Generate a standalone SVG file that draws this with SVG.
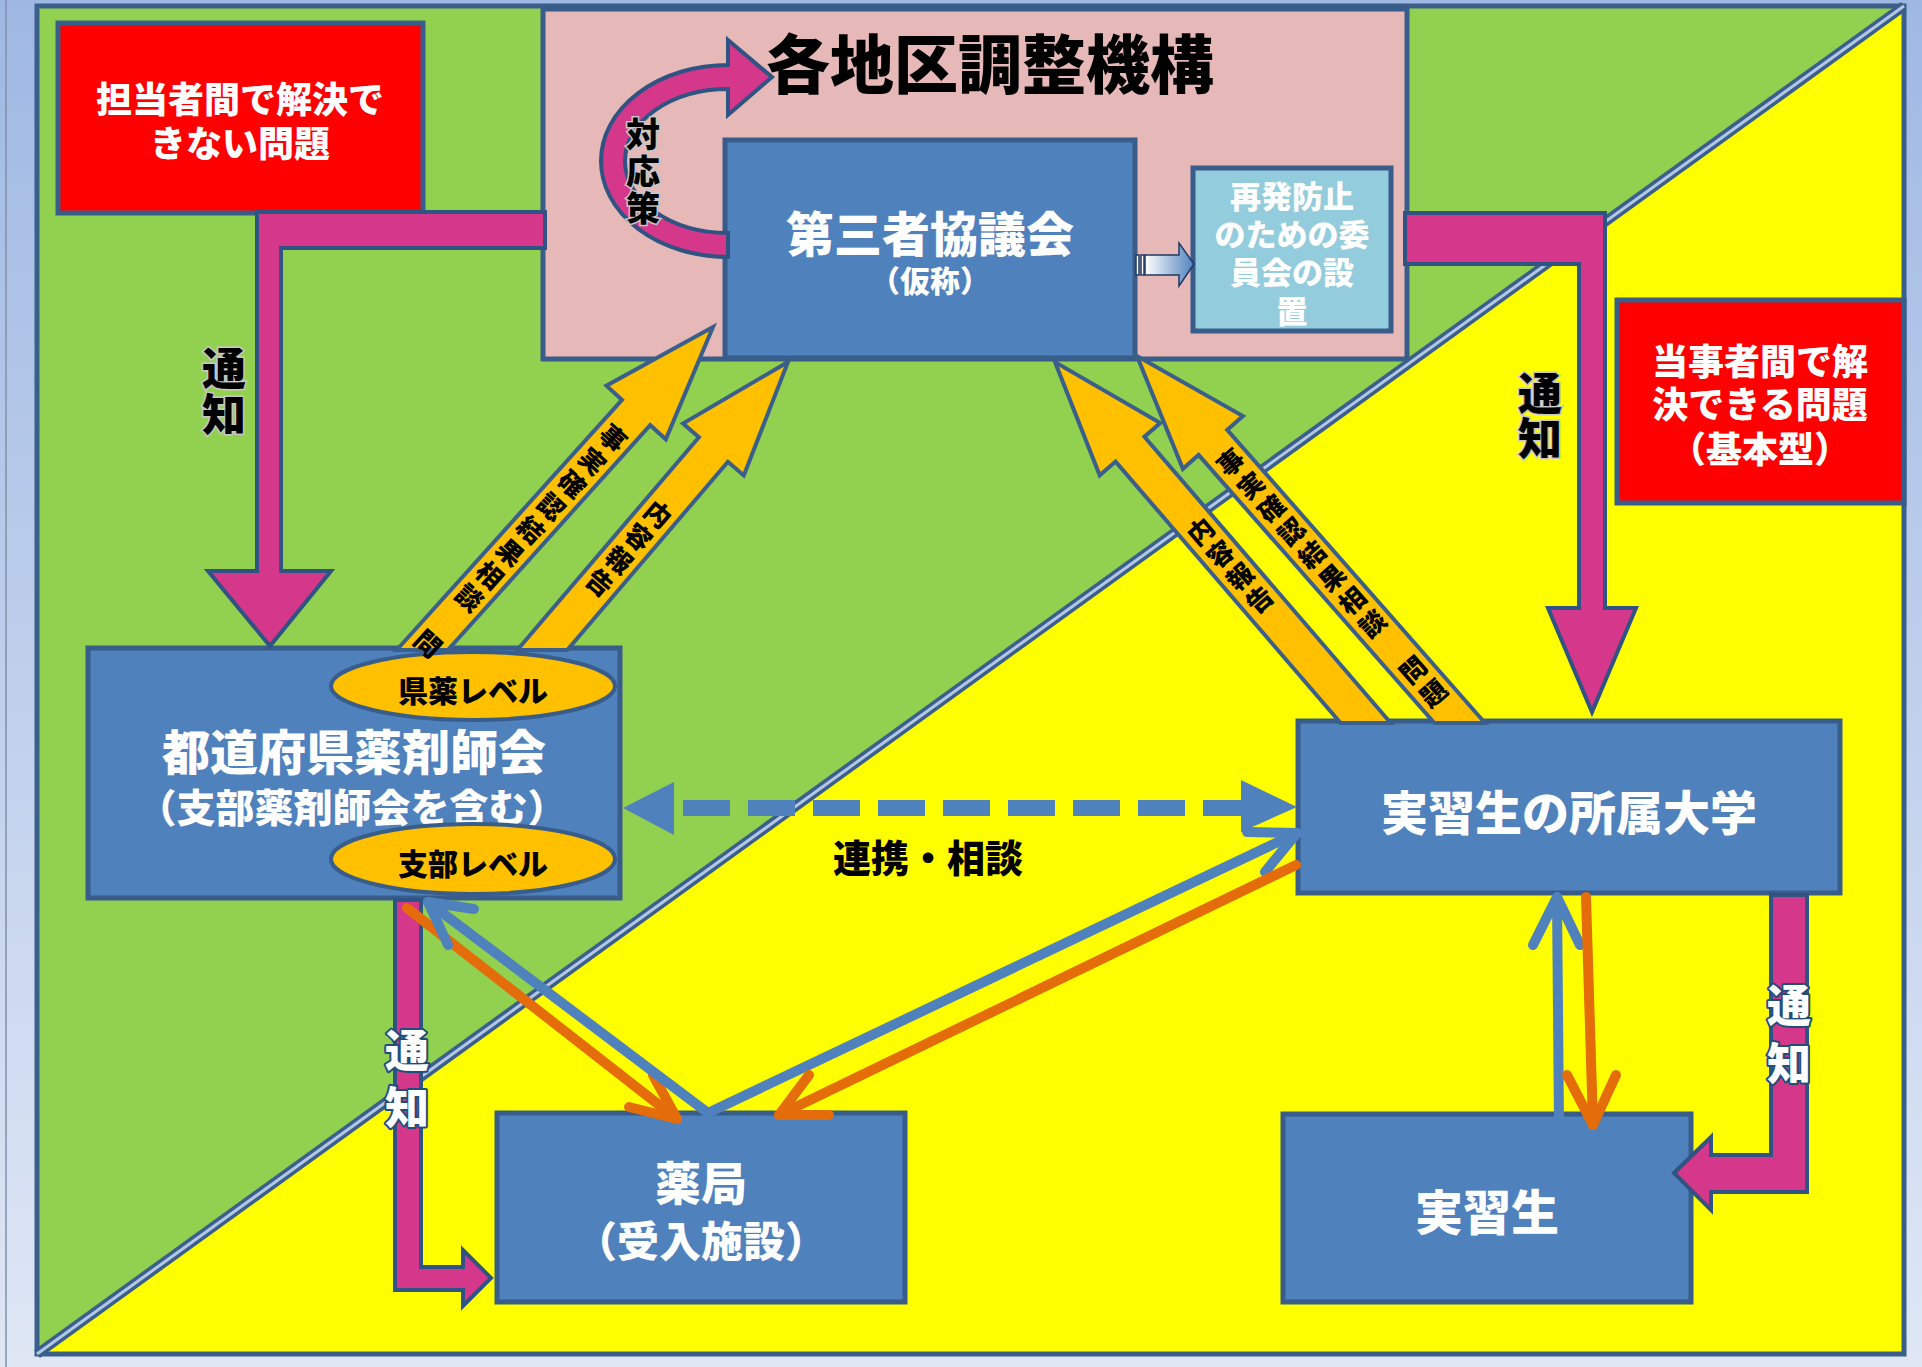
<svg xmlns="http://www.w3.org/2000/svg" width="1922" height="1367" viewBox="0 0 1922 1367">
<defs>
<linearGradient id="bg" x1="0" y1="0" x2="0" y2="1"><stop offset="0" stop-color="#9fb8e3"/><stop offset="1" stop-color="#dfe7f5"/></linearGradient>
<linearGradient id="ga" x1="0" y1="0" x2="1" y2="0"><stop offset="0" stop-color="#ffffff"/><stop offset="1" stop-color="#4f81bd"/></linearGradient>
<style>
.t{font-family:'Noto Sans CJK JP','Noto Sans',sans-serif;font-weight:900;text-anchor:middle}
.w{fill:#ffffff}
.k{fill:#000000}
.box{fill:#4f81bd;stroke:#385d8a;stroke-width:5}
.red{fill:#ff0000;stroke:#385d8a;stroke-width:5}
.pk{fill:#d5378a;stroke:#2f5382;stroke-width:4;stroke-linejoin:miter}
.ya{fill:#ffc000;stroke:#3a5f8a;stroke-width:4;stroke-linejoin:miter}
.ell{fill:#ffc000;stroke:#385d8a;stroke-width:4}
.bl{stroke:#4f81bd;stroke-width:10;fill:none;stroke-linecap:round;stroke-linejoin:round}
.or{stroke:#e46c0a;stroke-width:10;fill:none;stroke-linecap:round;stroke-linejoin:round}
.sh{stroke:#c8c8c8;stroke-width:3;paint-order:stroke}
.ol{fill:#ffffff;stroke:#1f4e79;stroke-width:4;paint-order:stroke;stroke-linejoin:round}
.at{font-size:26px}
</style>
</defs>
<g id="background">
<rect x="0" y="0" width="1922" height="1367" fill="url(#bg)"/>
<line x1="6" y1="0" x2="6" y2="1367" stroke="#8090a8" stroke-width="1.5"/>
<polygon points="37,6 1904,6 37,1354" fill="#92d050"/>
<polygon points="1904,6 1904,1354 37,1354" fill="#ffff00"/>
<rect x="37" y="6" width="1867" height="1348" fill="none" stroke="#3a5f8a" stroke-width="5"/>
<line x1="37" y1="1354" x2="1904" y2="6" stroke="#3a5f8a" stroke-width="10"/>
<line x1="37" y1="1354" x2="1904" y2="6" stroke="#b4c7e7" stroke-width="3"/>
</g>
<g id="node-unresolved">
<rect class="red" x="58" y="23" width="365" height="190"/>
<text class="t w" x="240" y="113" font-size="36">担当者間で解決で</text>
<text class="t w" x="240" y="157" font-size="36">きない問題</text>
</g>
<g id="node-resolved">
<rect class="red" x="1617" y="300" width="287" height="203"/>
<text class="t w" x="1760" y="375" font-size="36">当事者間で解</text>
<text class="t w" x="1760" y="418" font-size="36">決できる問題</text>
<text class="t w" x="1760" y="463" font-size="36">（基本型）</text>
</g>
<g id="node-regional">
<rect x="543" y="9" width="864" height="350" fill="#e6b9b8" stroke="#385d8a" stroke-width="5"/>
<text class="t k" x="990" y="88" font-size="64">各地区調整機構</text>
</g>
<g id="node-third-party">
<rect class="box" x="725" y="140" width="410" height="218"/>
<text class="t w" x="930" y="252" font-size="48">第三者協議会</text>
<text class="t w" x="930" y="292" font-size="30">（仮称）</text>
</g>
<g id="node-committee">
<rect x="1193" y="168" width="198" height="163" fill="#93cddd" stroke="#385d8a" stroke-width="5"/>
<text class="t w" x="1292" y="208" font-size="31">再発防止</text>
<text class="t w" x="1292" y="246" font-size="31">のための委</text>
<text class="t w" x="1292" y="284" font-size="31">員会の設</text>
<text class="t w" x="1292" y="323" font-size="31">置</text>
</g>
<g id="node-prefecture">
<rect class="box" x="88" y="648" width="532" height="250"/>
<text class="t w" x="354" y="770" font-size="48">都道府県薬剤師会</text>
<text class="t w" x="352" y="822" font-size="39">（支部薬剤師会を含む）</text>
<ellipse class="ell" cx="473" cy="686" rx="142" ry="34"/>
<text class="t k" x="473" y="702" font-size="30">県薬レベル</text>
<ellipse class="ell" cx="473" cy="859" rx="142" ry="35"/>
<text class="t k" x="473" y="875" font-size="30">支部レベル</text>
</g>
<g id="node-university">
<rect class="box" x="1298" y="721" width="542" height="172"/>
<text class="t w" x="1569" y="830" font-size="47">実習生の所属大学</text>
</g>
<g id="node-pharmacy">
<rect class="box" x="497" y="1113" width="408" height="189"/>
<text class="t w" x="701" y="1200" font-size="46">薬局</text>
<text class="t w" x="701" y="1257" font-size="42">（受入施設）</text>
</g>
<g id="node-student">
<rect class="box" x="1283" y="1114" width="408" height="188"/>
<text class="t w" x="1487" y="1230" font-size="48">実習生</text>
</g>
<g id="connectors">
<polygon class="pk" points="545,212 257,212 257,571 208,571 270,646 331,571 281,571 281,248 545,248"/>
<polygon class="pk" points="1405,213 1605,213 1605,608 1636,608 1592,712 1548,608 1579,608 1579,264 1405,264"/>
<polygon class="pk" points="395,900 421,900 421,1267 463,1267 463,1250 491,1278 463,1306 463,1290 395,1290"/>
<polygon class="pk" points="1771,895 1807,895 1807,1192 1711,1192 1711,1210 1674,1173 1711,1137 1711,1155 1771,1155"/>
<path class="pk" d="M 728,257 A 127 96 0 0 1 728,65 L 728,40 L 772,77 L 728,115 L 728,89 A 103 72 0 0 0 728,233 Z"/>
<g stroke="#1f3864" stroke-width="1.5">
<polygon points="1145,255 1179,255 1179,243 1194,264 1179,286 1179,275 1145,275" fill="url(#ga)"/>
<rect x="1136" y="255" width="3" height="20" fill="#ffffff"/>
<rect x="1141" y="255" width="3" height="20" fill="#ffffff"/>
</g>
<polygon class="ya" points="396.7,650 622.0,399.8 606.4,385.7 713,327 665.8,439.3 650.2,425.2 447.8,650"/>
<polygon class="ya" points="517.3,650 698.9,437.2 683.0,423.5 788,362 743.8,475.5 727.9,461.8 567.3,650"/>
<polygon class="ya" points="1390.7,723 1144.4,436.8 1160.3,423.1 1055,362 1099.7,475.3 1115.6,461.6 1340.6,723"/>
<polygon class="ya" points="1485.0,723 1227.2,429.9 1242.9,416.0 1137,356 1182.9,468.8 1198.6,454.9 1434.4,723"/>
<line x1="683" y1="808" x2="1241" y2="808" stroke="#4f81bd" stroke-width="16" stroke-dasharray="47 18"/>
<polygon points="623,808 674,782 674,835" fill="#4f81bd"/>
<polygon points="1297,807 1241,780 1241,832" fill="#4f81bd"/>
<polyline class="or" points="407,908 677,1119"/>
<polyline class="or" points="653,1075 677,1119 629,1107"/>
<polyline class="bl" points="428,902 708,1113 1297,833"/>
<polyline class="bl" points="474,909 428,902 448,945"/>
<polyline class="bl" points="1247,832 1297,833 1265,872"/>
<polyline class="or" points="1296,865 779,1115"/>
<polyline class="or" points="809,1075 779,1115 829,1115"/>
<polyline class="bl" points="1559,1125 1557,897"/>
<polyline class="bl" points="1533,945 1557,897 1580,945"/>
<polyline class="or" points="1586,897 1593,1125"/>
<polyline class="or" points="1567,1075 1593,1125 1616,1075"/>
</g>
<g id="labels">
<text class="t k sh" x="643" y="147" font-size="34">対</text>
<text class="t k sh" x="643" y="184" font-size="34">応</text>
<text class="t k sh" x="643" y="221" font-size="34">策</text>
<text class="t k sh" x="224" y="385" font-size="44">通</text>
<text class="t k sh" x="224" y="431" font-size="44">知</text>
<text class="t k sh" x="1540" y="410" font-size="44">通</text>
<text class="t k sh" x="1540" y="455" font-size="44">知</text>
<text class="t ol" x="407" y="1067" font-size="44">通</text>
<text class="t ol" x="407" y="1124" font-size="44">知</text>
<text class="t ol" x="1789" y="1022" font-size="44">通</text>
<text class="t ol" x="1789" y="1080" font-size="44">知</text>
<text class="t k" x="928" y="872" font-size="38">連携・相談</text>
<g class="t k at" dominant-baseline="central">
<text transform="translate(614,437) rotate(42)">事</text>
<text transform="translate(593.5,459.8) rotate(42)">実</text>
<text transform="translate(573,482.6) rotate(42)">確</text>
<text transform="translate(552.4,505.4) rotate(42)">認</text>
<text transform="translate(531.9,528.3) rotate(42)">結</text>
<text transform="translate(511.3,551.1) rotate(42)">果</text>
<text transform="translate(490.8,573.9) rotate(42)">相</text>
<text transform="translate(470.3,596.7) rotate(42)">談</text>
<text transform="translate(429.2,642.3) rotate(42)">問</text>
<text transform="translate(659,513) rotate(40.5)">内</text>
<text transform="translate(639.5,535.8) rotate(40.5)">容</text>
<text transform="translate(620,558.7) rotate(40.5)">報</text>
<text transform="translate(600.6,581.5) rotate(40.5)">告</text>
<text transform="translate(1199.6,530) rotate(-40.7)">内</text>
<text transform="translate(1219.2,552.7) rotate(-40.7)">容</text>
<text transform="translate(1238.8,575.4) rotate(-40.7)">報</text>
<text transform="translate(1258.3,598.2) rotate(-40.7)">告</text>
<text transform="translate(1229.5,461.1) rotate(-41.3)">事</text>
<text transform="translate(1249.8,484.2) rotate(-41.3)">実</text>
<text transform="translate(1270.1,507.2) rotate(-41.3)">確</text>
<text transform="translate(1290.3,530.3) rotate(-41.3)">認</text>
<text transform="translate(1310.6,553.3) rotate(-41.3)">結</text>
<text transform="translate(1330.9,576.4) rotate(-41.3)">果</text>
<text transform="translate(1351.2,599.4) rotate(-41.3)">相</text>
<text transform="translate(1371.4,622.5) rotate(-41.3)">談</text>
<text transform="translate(1412,668.6) rotate(-41.3)">問</text>
<text transform="translate(1432.3,691.7) rotate(-41.3)">題</text>
</g>
</g>
</svg>
